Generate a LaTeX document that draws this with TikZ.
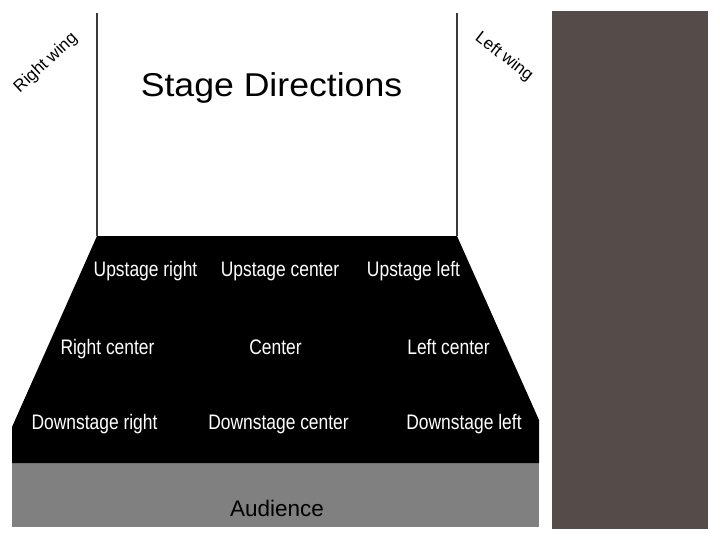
\documentclass[tikz,border=0pt]{standalone}
\usepackage{fontspec}
\setmainfont{Liberation Sans}
\newfontfamily\narrowfont[FakeStretch=0.83]{Liberation Sans}
\newfontfamily\widefont[FakeStretch=1.08]{Liberation Sans}
\definecolor{brownbg}{HTML}{554C4A}
\definecolor{audgray}{HTML}{808080}
\definecolor{wallgray}{HTML}{3A3A3A}
\begin{document}
\begin{tikzpicture}[x=1pt,y=-1pt,
  area/.style={white,font=\narrowfont\fontsize{21}{22}\selectfont,anchor=base,inner sep=0pt},
  wingtxt/.style={black,font=\fontsize{17}{18}\selectfont,inner sep=0pt},
  wall/.style={draw=wallgray,line width=1.3pt}]
\useasboundingbox (0,0) rectangle (720,540);
\fill[white] (0,0) rectangle (720,540);
\fill[brownbg] (552,11) rectangle (708,529);
\fill[audgray] (12,463) rectangle (539,527);
\fill[black] (97,236) -- (457,236) -- (539,420) -- (539,463) -- (12,463) -- (12,427) -- cycle;
\coordinate (lwtop) at (97,13);
\coordinate (lwbot) at (97,236);
\coordinate (rwtop) at (457,13);
\coordinate (rwbot) at (457,236);
\draw[wall] (lwtop) -- (lwbot);
\draw[wall] (rwtop) -- (rwbot);
\node[anchor=base,inner sep=0pt,font=\widefont\fontsize{33}{34}\selectfont] (title) at (271.5,96.7) {Stage Directions};
\node[wingtxt,rotate=43] (rwing) at (46,63) {Right wing};
\node[wingtxt,rotate=-38] (lwing) at (504,57) {Left wing};
\node[area] (ur) at (145.5,276.5) {Upstage right};
\node[area] (uc) at (280,276.5) {Upstage center};
\node[area] (ul) at (413.5,276.5) {Upstage left};
\node[area] (rc) at (107.5,354) {Right center};
\node[area] (c) at (275.5,354) {Center};
\node[area] (lc) at (448.5,354) {Left center};
\node[area] (dr) at (94.5,429) {Downstage right};
\node[area] (dc) at (278.5,429) {Downstage center};
\node[area] (dl) at (464,429) {Downstage left};
\node[anchor=base,inner sep=0pt,font=\fontsize{22.5}{23}\selectfont] (aud) at (277,516.5) {Audience};
\end{tikzpicture}
\end{document}
